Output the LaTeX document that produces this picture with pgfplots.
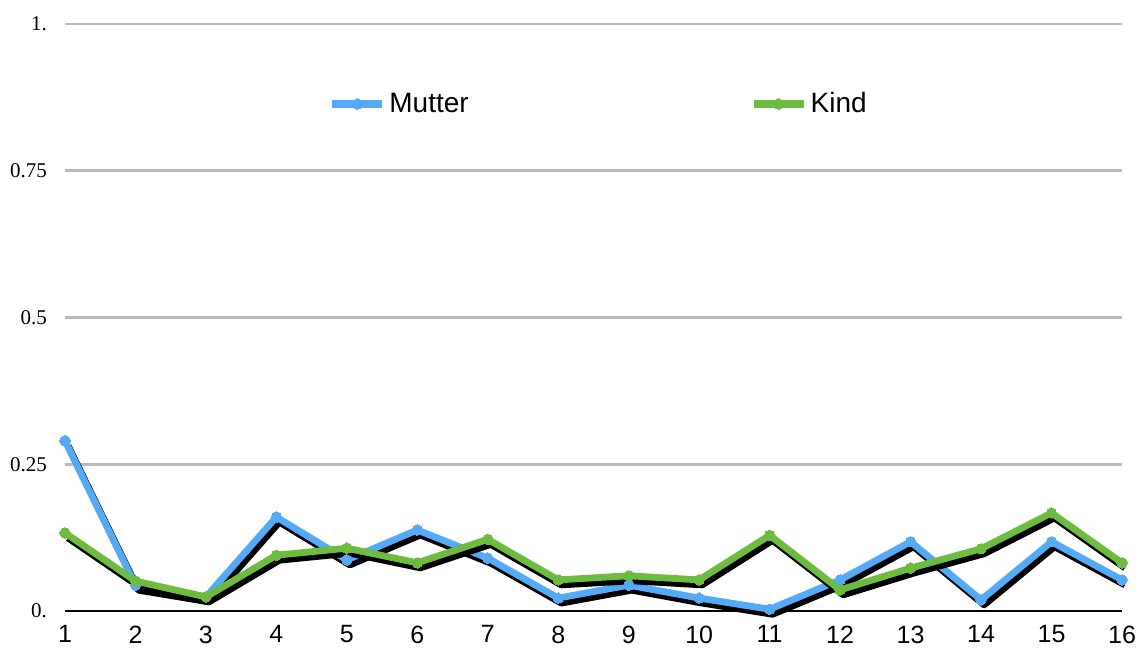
\documentclass[border=0pt]{standalone}
\usepackage{fontspec}
\setmainfont{Liberation Sans}
\newfontfamily\seriffont{Liberation Serif}
\usepackage{pgfplots}
\usepackage{pgfplotstable}
\pgfplotsset{compat=1.18}
\definecolor{mblue}{HTML}{55AAF7}
\definecolor{kgreen}{HTML}{6DBB3F}
\definecolor{gridgray}{HTML}{BBBBBB}

\pgfplotstableread{
x m k
1 0.290 0.133
2 0.044 0.051
3 0.024 0.024
4 0.160 0.095
5 0.087 0.107
6 0.138 0.082
7 0.090 0.122
8 0.022 0.053
9 0.044 0.060
10 0.022 0.053
11 0.003 0.129
12 0.053 0.036
13 0.118 0.073
14 0.019 0.106
15 0.118 0.167
16 0.053 0.082
}\data

\begin{document}
\begin{tikzpicture}
\begin{axis}[
  scale only axis, width=528.5pt, height=293.5pt,
  at={(0,0)}, anchor=south west,
  xmin=1, xmax=16, ymin=0, ymax=1,
  clip=false,
  /pgf/number format/assume math mode=true,
  axis line style={draw=none},
  tick style={draw=none},
  xtick={1,...,16},
  ytick={0.25,0.5,0.75,1},
  yticklabels={0.25,0.5,0.75,1.},
  extra y ticks={0}, extra y tick labels={0.},
  extra y tick style={major grid style={black, line width=1pt}},
  ymajorgrids,
  major grid style={gridgray, line width=1.3pt},
  yticklabel style={font=\seriffont\fontsize{10.5}{12}\selectfont, anchor=east, xshift=-5.5pt},
  xticklabel style={font=\fontsize{12.5}{14}\selectfont, anchor=north, yshift=-3.8pt},
  legend columns=2,
  legend style={draw=none, fill=none, inner sep=0pt, anchor=west,
    at={(axis description cs:0.2488,0.8637)},
    font=\fontsize{14}{16}\selectfont,
    nodes={inner sep=1.5pt},
    /tikz/every even column/.append style={column sep=139pt}},
  legend image code/.code={\draw[mark repeat=2,mark phase=2,#1,line width=4pt] plot coordinates {(0pt,0pt) (12.5pt,0pt) (25pt,0pt)};},
]
\addplot[black, line width=3.4pt, line join=round, forget plot, transform canvas={xshift=1.5pt,yshift=-2.5pt}] table[x=x,y=m] {\data};
\addplot[mblue, line width=3.4pt, line join=round, mark=*, mark size=2.6pt, mark options={line width=0pt}] table[x=x,y=m] {\data};
\addlegendentry{Mutter}
\addplot[black, line width=3.4pt, line join=round, forget plot, transform canvas={xshift=1.5pt,yshift=-2.5pt}] table[x=x,y=k] {\data};
\addplot[kgreen, line width=3.4pt, line join=round, mark=*, mark size=2.6pt, mark options={line width=0pt}] table[x=x,y=k] {\data};
\addlegendentry{Kind}
\end{axis}
\pgfresetboundingbox
\useasboundingbox (-32.5pt,-18.5pt) rectangle (537.5pt,305.5pt);
\end{tikzpicture}
\end{document}
